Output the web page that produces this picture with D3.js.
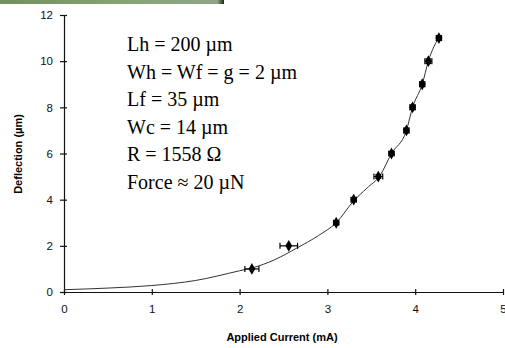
<!DOCTYPE html>
<html>
<head>
<meta charset="utf-8">
<script src="https://cdn.jsdelivr.net/npm/d3@7"></script>
<style>
  body { margin: 0; background: #fff; }
  svg { display: block; }
</style>
</head>
<body>
<svg id="chart" width="505" height="348"></svg>
<script>
// measured points
const currentMA = [2.14, 2.56, 3.10, 3.30, 3.58, 3.73, 3.90, 3.97, 4.08, 4.15, 4.27];
const deflection = [1, 2, 3, 4, 5, 6, 7, 8, 9, 10, 11];
const currentErr = [0.08, 0.10, 0.03, 0.03, 0.05, 0.03, 0.03, 0.03, 0.03, 0.04, 0.03];
const deflErr = [0, 0, 0.08, 0.08, 0.08, 0.08, 0.1, 0.1, 0.1, 0.1, 0.1];

// fitted curve
const fitX = [0, 0.5, 1, 1.5, 2, 2.15, 2.4, 2.65, 2.9, 3.1, 3.3, 3.45, 3.6, 3.73, 3.9, 3.97, 4.08, 4.15, 4.28];
const fitY = [0.1, 0.17, 0.28, 0.5, 0.92, 1.05, 1.4, 1.9, 2.45, 3.0, 3.95, 4.5, 5.05, 6.0, 7.0, 8.0, 9.0, 10.0, 11.1];

const xTicks = [0, 1, 2, 3, 4, 5];
const yTicks = [0, 2, 4, 6, 8, 10, 12];

const notes = ["Lh = 200 µm", "Wh = Wf = g = 2 µm", "Lf = 35 µm", "Wc = 14 µm", "R = 1558 Ω", "Force ≈ 20 µN"];

const svg = d3.select("#chart");

// green strip at the top left
const grad = svg.append("defs").append("linearGradient").attr("id", "band");
grad.append("stop").attr("offset", "0%").attr("stop-color", "#6f8f5f");
grad.append("stop").attr("offset", "60%").attr("stop-color", "#86a676");
grad.append("stop").attr("offset", "97%").attr("stop-color", "#8fa585");
grad.append("stop").attr("offset", "100%").attr("stop-color", "#1e2a18");
svg.append("rect").attr("x", 0).attr("y", 0).attr("width", 224).attr("height", 4).attr("fill", "url(#band)");

const x = d3.scaleLinear().domain([0, 5]).range([64, 503]);
const y = d3.scaleLinear().domain([0, 12]).range([292, 15]);

const xAxis = svg.append("g")
  .attr("transform", `translate(0,${y(0)})`)
  .call(d3.axisBottom(x).tickValues(xTicks).tickFormat(d3.format("d")).tickSize(3).tickSizeOuter(0).tickPadding(10));
xAxis.selectAll(".tick line").attr("y1", -3);

const yAxis = svg.append("g")
  .attr("transform", `translate(${x(0)},0)`)
  .call(d3.axisLeft(y).tickValues(yTicks).tickFormat(d3.format("d")).tickSize(4).tickSizeOuter(0).tickPadding(7));
yAxis.selectAll(".tick line").attr("x1", -4).attr("x2", 3);

svg.selectAll(".domain, .tick line").attr("stroke", "#111").attr("stroke-width", 1.2);
svg.selectAll(".tick text")
  .attr("font-family", "Liberation Sans, Arial, sans-serif")
  .attr("font-size", 11.5).attr("fill", "#111");

svg.append("text")
  .attr("x", 282).attr("y", 341)
  .attr("text-anchor", "middle")
  .attr("font-family", "Liberation Sans, Arial, sans-serif")
  .attr("font-weight", "bold").attr("font-size", 11)
  .text("Applied Current (mA)");

svg.append("text")
  .attr("transform", "translate(22,154) rotate(-90)")
  .attr("text-anchor", "middle")
  .attr("font-family", "Liberation Sans, Arial, sans-serif")
  .attr("font-weight", "bold").attr("font-size", 11)
  .text("Deflection (µm)");

// fit line
const fit = fitX.map((d, i) => [d, fitY[i]]);
svg.append("path")
  .datum(fit)
  .attr("fill", "none")
  .attr("stroke", "#333")
  .attr("stroke-width", 1)
  .attr("d", d3.line().x(d => x(d[0])).y(d => y(d[1])).curve(d3.curveMonotoneX));

// points with error bars
const pts = currentMA.map((d, i) => ({ cx: d, cy: deflection[i], ex: currentErr[i], ey: deflErr[i] }));
const g = svg.append("g").attr("stroke", "#000").attr("stroke-width", 1.2);
const cap = 3;

pts.forEach(p => {
  const px = x(p.cx), py = y(p.cy);
  const x1 = x(p.cx - p.ex), x2 = x(p.cx + p.ex);
  g.append("line").attr("x1", x1).attr("x2", x2).attr("y1", py).attr("y2", py);
  g.append("line").attr("x1", x1).attr("x2", x1).attr("y1", py - cap).attr("y2", py + cap);
  g.append("line").attr("x1", x2).attr("x2", x2).attr("y1", py - cap).attr("y2", py + cap);
  if (p.ey > 0) {
    const y1 = y(p.cy - p.ey), y2 = y(p.cy + p.ey);
    g.append("line").attr("x1", px).attr("x2", px).attr("y1", y1).attr("y2", y2);
    g.append("line").attr("x1", px - cap).attr("x2", px + cap).attr("y1", y1).attr("y2", y1);
    g.append("line").attr("x1", px - cap).attr("x2", px + cap).attr("y1", y2).attr("y2", y2);
  }
});

svg.append("g")
  .selectAll("path")
  .data(pts)
  .join("path")
  .attr("transform", d => `translate(${x(d.cx)},${y(d.cy)})`)
  .attr("d", d3.symbol().type(d3.symbolDiamond).size(40))
  .attr("fill", "#000");

// parameters box
svg.append("g")
  .selectAll("text")
  .data(notes)
  .join("text")
  .attr("x", 127)
  .attr("y", (d, i) => 51 + i * 27.5)
  .attr("font-family", "Liberation Serif, Times New Roman, serif")
  .attr("font-size", 20)
  .attr("fill", "#000")
  .text(d => d);
</script>
</body>
</html>
